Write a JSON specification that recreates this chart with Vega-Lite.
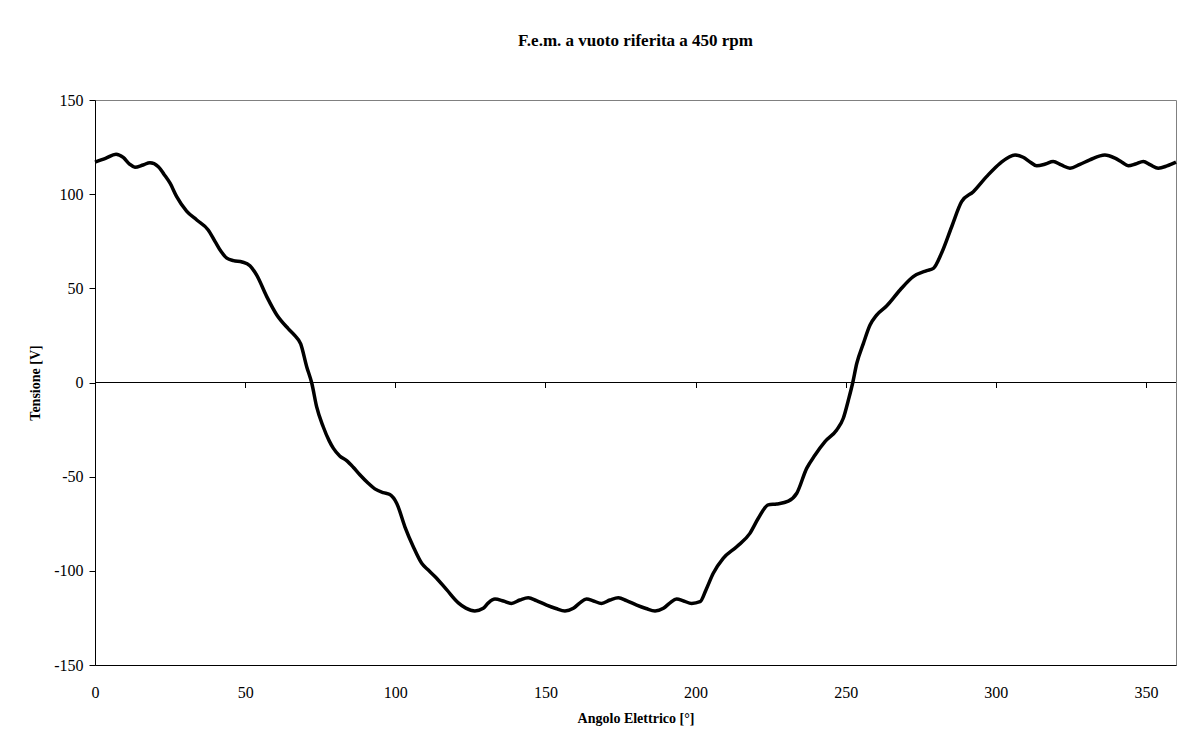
{
  "$schema": "https://vega.github.io/schema/vega-lite/v6.json",
  "autosize": "none",
  "width": 1081,
  "height": 565,
  "padding": {"left": 95, "top": 100, "right": 28, "bottom": 76},
  "background": "white",
  "config": {
    "font": "Liberation Serif",
    "view": {"stroke": "#808080", "strokeWidth": 1},
    "axis": {"grid": false, "labelColor": "black", "titleColor": "black", "domainColor": "black", "tickColor": "black", "labelFont": "Liberation Serif", "titleFont": "Liberation Serif"}
  },
  "title": {
    "text": "F.e.m. a vuoto riferita a 450 rpm",
    "font": "Liberation Serif",
    "fontSize": 17,
    "fontWeight": "bold",
    "color": "black",
    "anchor": "middle",
    "baseline": "middle",
    "offset": 34
  },
  "data": {
    "values": [
      {"angolo": 0, "tensione": 117.0},
      {"angolo": 3.5, "tensione": 119.0},
      {"angolo": 7, "tensione": 121.2},
      {"angolo": 9.4, "tensione": 119.5},
      {"angolo": 11.5, "tensione": 116.0},
      {"angolo": 13.3, "tensione": 114.3},
      {"angolo": 16, "tensione": 115.5},
      {"angolo": 18.3, "tensione": 116.7},
      {"angolo": 21.1, "tensione": 114.6},
      {"angolo": 23, "tensione": 110.5},
      {"angolo": 25, "tensione": 105.8},
      {"angolo": 27.2, "tensione": 98.7},
      {"angolo": 30.5, "tensione": 91},
      {"angolo": 33.9, "tensione": 86.3},
      {"angolo": 37.7, "tensione": 81},
      {"angolo": 40, "tensione": 74.8},
      {"angolo": 42, "tensione": 69.5},
      {"angolo": 43.9, "tensione": 66},
      {"angolo": 46.1, "tensione": 64.7},
      {"angolo": 49, "tensione": 64},
      {"angolo": 51.6, "tensione": 62},
      {"angolo": 53.8, "tensione": 57.1},
      {"angolo": 57.2, "tensione": 45.6},
      {"angolo": 60.5, "tensione": 36},
      {"angolo": 64.4, "tensione": 28.5},
      {"angolo": 66.5, "tensione": 25},
      {"angolo": 68.5, "tensione": 20.5},
      {"angolo": 70.5, "tensione": 8.4},
      {"angolo": 72.2, "tensione": -0.4},
      {"angolo": 73.8, "tensione": -12.8},
      {"angolo": 76, "tensione": -23.5},
      {"angolo": 78, "tensione": -31},
      {"angolo": 79.4, "tensione": -35},
      {"angolo": 81.5, "tensione": -39},
      {"angolo": 83.8, "tensione": -41.5},
      {"angolo": 86, "tensione": -45},
      {"angolo": 88.2, "tensione": -49},
      {"angolo": 91, "tensione": -53.5},
      {"angolo": 93.2, "tensione": -56.5},
      {"angolo": 96, "tensione": -58.5},
      {"angolo": 98.2, "tensione": -59.5},
      {"angolo": 100.5, "tensione": -64.2},
      {"angolo": 103.2, "tensione": -76.6},
      {"angolo": 106, "tensione": -87.2},
      {"angolo": 108.8, "tensione": -96},
      {"angolo": 111, "tensione": -99.6},
      {"angolo": 113.2, "tensione": -103},
      {"angolo": 117.1, "tensione": -110},
      {"angolo": 121, "tensione": -117},
      {"angolo": 123.5, "tensione": -119.8},
      {"angolo": 126.5, "tensione": -121.3},
      {"angolo": 129.3, "tensione": -119.9},
      {"angolo": 131, "tensione": -117},
      {"angolo": 133.2, "tensione": -115},
      {"angolo": 136, "tensione": -116},
      {"angolo": 138.7, "tensione": -117.3},
      {"angolo": 141.5, "tensione": -115.5},
      {"angolo": 144.3, "tensione": -114.3},
      {"angolo": 147, "tensione": -115.8},
      {"angolo": 150.4, "tensione": -118.2},
      {"angolo": 153.5, "tensione": -120},
      {"angolo": 156.5, "tensione": -121.3},
      {"angolo": 159.3, "tensione": -119.9},
      {"angolo": 161.5, "tensione": -117},
      {"angolo": 163.7, "tensione": -115},
      {"angolo": 166, "tensione": -116},
      {"angolo": 168.7, "tensione": -117.3},
      {"angolo": 171.5, "tensione": -115.5},
      {"angolo": 174.3, "tensione": -114.3},
      {"angolo": 177, "tensione": -115.8},
      {"angolo": 180.4, "tensione": -118.2},
      {"angolo": 183.5, "tensione": -120},
      {"angolo": 186.5, "tensione": -121.3},
      {"angolo": 189.3, "tensione": -119.9},
      {"angolo": 191.5, "tensione": -117},
      {"angolo": 193.7, "tensione": -115},
      {"angolo": 196, "tensione": -116},
      {"angolo": 198.7, "tensione": -117.3},
      {"angolo": 201.5, "tensione": -116.4},
      {"angolo": 203.5, "tensione": -110},
      {"angolo": 205.9, "tensione": -101.3},
      {"angolo": 209.2, "tensione": -93.4},
      {"angolo": 213.7, "tensione": -87.2},
      {"angolo": 218.1, "tensione": -80.1},
      {"angolo": 220.9, "tensione": -72.1},
      {"angolo": 224.2, "tensione": -65},
      {"angolo": 227, "tensione": -64.5},
      {"angolo": 230.9, "tensione": -63},
      {"angolo": 233.7, "tensione": -58.8},
      {"angolo": 237, "tensione": -45.6},
      {"angolo": 239.8, "tensione": -38.5},
      {"angolo": 243.1, "tensione": -31.4},
      {"angolo": 247, "tensione": -25.2},
      {"angolo": 249.2, "tensione": -19},
      {"angolo": 250.9, "tensione": -9.3},
      {"angolo": 252.3, "tensione": -0.4},
      {"angolo": 253.7, "tensione": 10.2},
      {"angolo": 255.9, "tensione": 20.8},
      {"angolo": 258.1, "tensione": 30.5},
      {"angolo": 260.3, "tensione": 35.8},
      {"angolo": 263.6, "tensione": 40.6},
      {"angolo": 268.1, "tensione": 49.1},
      {"angolo": 272.5, "tensione": 56.2},
      {"angolo": 277, "tensione": 59.4},
      {"angolo": 279.2, "tensione": 60.6},
      {"angolo": 281.9, "tensione": 68.6},
      {"angolo": 285.3, "tensione": 82.7},
      {"angolo": 288.6, "tensione": 96},
      {"angolo": 292.5, "tensione": 101.3},
      {"angolo": 296.9, "tensione": 109.3},
      {"angolo": 301.4, "tensione": 116.4},
      {"angolo": 306.4, "tensione": 120.8},
      {"angolo": 309.1, "tensione": 119.6},
      {"angolo": 311.5, "tensione": 117},
      {"angolo": 313.6, "tensione": 115.1},
      {"angolo": 316.5, "tensione": 116},
      {"angolo": 319.1, "tensione": 117.3},
      {"angolo": 321.8, "tensione": 115.5},
      {"angolo": 324.7, "tensione": 113.8},
      {"angolo": 328, "tensione": 115.8},
      {"angolo": 331.3, "tensione": 118.2},
      {"angolo": 336.3, "tensione": 120.8},
      {"angolo": 339.7, "tensione": 119.1},
      {"angolo": 342, "tensione": 117},
      {"angolo": 344.1, "tensione": 115.1},
      {"angolo": 346.5, "tensione": 116},
      {"angolo": 349.1, "tensione": 117.3},
      {"angolo": 351.5, "tensione": 115.5},
      {"angolo": 354.1, "tensione": 113.8},
      {"angolo": 357, "tensione": 115},
      {"angolo": 360, "tensione": 117}
    ]
  },
  "layer": [
    {
      "mark": {"type": "rule", "color": "black", "strokeWidth": 1},
      "encoding": {
        "x": {
          "datum": 0,
          "type": "quantitative",
          "scale": {"domain": [0, 360], "nice": false, "zero": false},
          "axis": {
            "orient": "bottom",
            "offset": -282.5,
            "values": [0, 50, 100, 150, 200, 250, 300, 350],
            "labels": false,
            "ticks": true,
            "tickSize": 5,
            "domain": false,
            "title": null
          }
        },
        "x2": {"datum": 360},
        "y": {"datum": 0, "type": "quantitative", "axis": null}
      }
    },
    {
      "mark": {"type": "line", "color": "black", "strokeWidth": 3.5, "interpolate": "monotone"},
      "encoding": {
        "x": {
          "field": "angolo",
          "type": "quantitative",
          "scale": {"domain": [0, 360], "nice": false, "zero": false},
          "axis": {
            "orient": "bottom",
            "values": [0, 50, 100, 150, 200, 250, 300, 350],
            "ticks": false,
            "domain": true,
            "domainWidth": 1,
            "labelPadding": 19,
            "labelFontSize": 16,
            "labelFlush": false,
            "title": "Angolo Elettrico [°]",
            "titleFontSize": 14,
            "titleFontWeight": "bold",
            "titleBaseline": "middle",
            "titleX": 540.5,
            "titleY": 53
          }
        },
        "y": {
          "field": "tensione",
          "type": "quantitative",
          "scale": {"domain": [-150, 150], "nice": false, "zero": false},
          "axis": {
            "values": [-150, -100, -50, 0, 50, 100, 150],
            "labelExpr": "'' + datum.value",
            "ticks": true,
            "tickSize": 6,
            "labelPadding": 6,
            "labelFontSize": 16,
            "labelFlush": false,
            "domain": true,
            "domainWidth": 1,
            "title": "Tensione [V]",
            "titleFontSize": 14,
            "titleFontWeight": "bold",
            "titleAngle": -90,
            "titleBaseline": "middle",
            "titleX": -60,
            "titleY": 282.5
          }
        }
      }
    }
  ],
  "resolve": {"axis": {"x": "independent", "y": "independent"}}
}
